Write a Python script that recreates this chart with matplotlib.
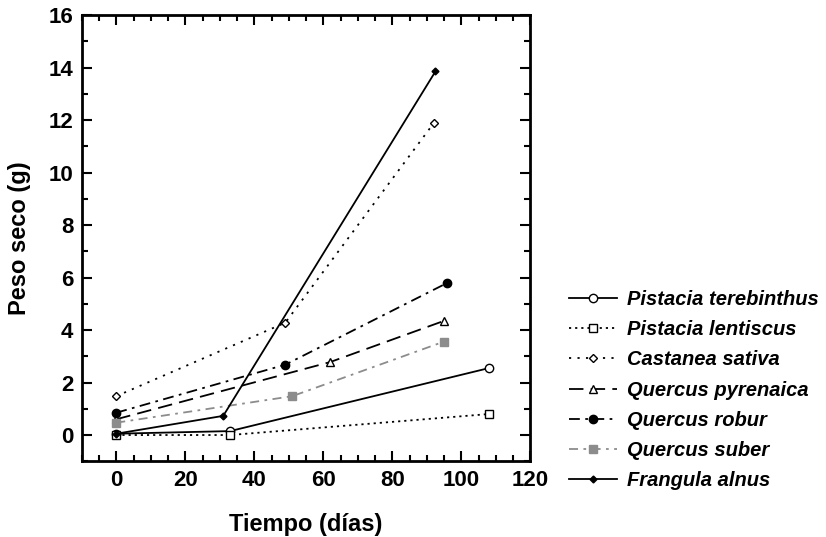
import matplotlib.pyplot as plt
from matplotlib.ticker import MultipleLocator

plt.rcParams['font.family'] = ['Liberation Sans', 'DejaVu Sans']

# Datos (tiempo en días, peso seco en g)
especies = ['Pistacia terebinthus', 'Pistacia lentiscus', 'Castanea sativa',
            'Quercus pyrenaica', 'Quercus robur', 'Quercus suber',
            'Frangula alnus']

t_terebinthus = [0, 33, 108]
p_terebinthus = [0.05, 0.15, 2.55]

t_lentiscus = [0, 33, 108]
p_lentiscus = [0.0, 0.0, 0.8]

t_castanea = [0, 49, 92]
p_castanea = [1.48, 4.28, 11.88]

t_pyrenaica = [0, 62, 95]
p_pyrenaica = [0.6, 2.78, 4.35]

t_robur = [0, 49, 96]
p_robur = [0.85, 2.68, 5.8]

t_suber = [0, 51, 95]
p_suber = [0.47, 1.48, 3.56]

t_frangula = [0, 31, 92.5]
p_frangula = [0.05, 0.73, 13.85]

series = [
    (t_terebinthus, p_terebinthus, dict(color='black', ls='-', marker='o', mfc='white', ms=6)),
    (t_lentiscus, p_lentiscus, dict(color='black', ls=(0, (1.2, 2.2)), marker='s', mfc='white', ms=6)),
    (t_castanea, p_castanea, dict(color='black', ls=(0, (1.2, 3.5)), marker='D', mfc='white', ms=4.5)),
    (t_pyrenaica, p_pyrenaica, dict(color='black', ls=(0, (8, 4)), marker='^', mfc='white', ms=6)),
    (t_robur, p_robur, dict(color='black', ls=(0, (6, 3, 1.5, 3)), marker='o', mfc='black', ms=6)),
    (t_suber, p_suber, dict(color='#8c8c8c', ls=(0, (5, 3, 1.5, 3)), marker='s', mfc='#8c8c8c', ms=5.5)),
    (t_frangula, p_frangula, dict(color='black', ls='-', marker='D', mfc='black', ms=3.5)),
]

fig = plt.figure(figsize=(8.26, 5.37), dpi=100)
ax = fig.add_axes([0.099, 0.141, 0.543, 0.831])

for (t, p, st), nombre in zip(series, especies):
    ax.plot(t, p, lw=1.3, mew=1.0, mec=st['color'], label=nombre, **st)

ax.set_xlim(-10, 120)
ax.set_ylim(-1, 16)
ax.xaxis.set_major_locator(MultipleLocator(20))
ax.xaxis.set_minor_locator(MultipleLocator(5))
ax.yaxis.set_major_locator(MultipleLocator(2))
ax.yaxis.set_minor_locator(MultipleLocator(1))
ax.tick_params(which='both', direction='in', top=True, right=True, width=1.5)
ax.tick_params(which='major', length=7, labelsize=16, pad=6)
ax.tick_params(which='minor', length=4)
for lab in ax.get_xticklabels() + ax.get_yticklabels():
    lab.set_fontweight('bold')
for sp in ax.spines.values():
    sp.set_linewidth(2)

ax.set_xlabel('Tiempo (días)', fontsize=17, fontweight='bold', labelpad=16)
ax.set_ylabel('Peso seco (g)', fontsize=17, fontweight='bold', labelpad=13)

leg = ax.legend(loc='upper left', bbox_to_anchor=(1.045, 0.425), frameon=False,
                handlelength=2.4, handletextpad=0.5, labelspacing=0.56,
                prop=dict(size=14.5, style='italic', weight='bold'))

fig.savefig('out.png', dpi=100)
